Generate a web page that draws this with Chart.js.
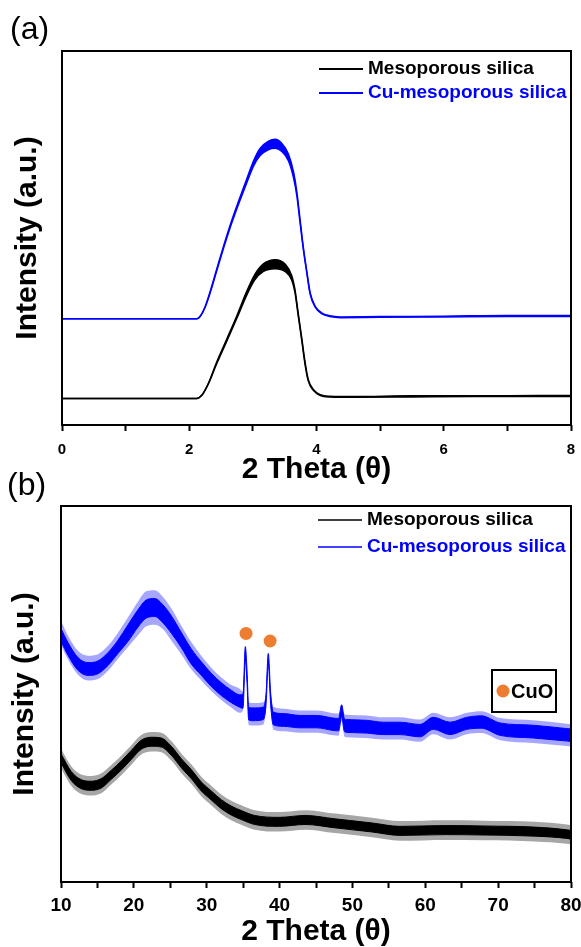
<!DOCTYPE html>
<html>
<head>
<meta charset="utf-8">
<script src="https://cdn.jsdelivr.net/npm/chart.js@4.4.1/dist/chart.umd.min.js"></script>
<style>
html, body { margin: 0; padding: 0; background: #fff; overflow: hidden; }
#wrap { position: relative; width: 581px; height: 947px; }
canvas { position: absolute; left: 0; }
#chartA { top: 0; }
#chartB { top: 468px; }
</style>
</head>
<body>
<div id="wrap">
    <canvas id="chartA" width="581" height="485"></canvas>
    <canvas id="chartB" width="581" height="479"></canvas>
</div>
<script>
var FONT = '"Liberation Sans", Arial, sans-serif';

var seriesNames = ['Mesoporous silica', 'Cu-mesoporous silica'];
var seriesColors = ['#000000', '#0000ff'];
var seriesHalo = ['rgba(0,0,0,0.35)', 'rgba(0,0,255,0.35)'];

// (a) low angle: the noisy trace is kept as an upper and lower edge
var aSilicaX  = [0, 2.12, 2.2, 2.3, 2.43, 2.59, 2.75, 2.9, 3.03, 3.16, 3.35, 3.51, 3.61, 3.66, 3.71, 3.77, 3.82, 3.87, 3.95, 4.06, 4.21, 4.6, 5.5, 6.5, 7.5, 8];
var aSilicaHi = [7.1, 7.1, 8.0, 11.1, 16.8, 23.0, 29.3, 35.6, 40.2, 43.0, 44.2, 43.0, 40.0, 36.4, 30.2, 23.0, 16.8, 12.2, 9.5, 8.1, 7.7, 7.6, 7.8, 7.8, 7.9, 7.9];
var aSilicaLo = [7.1, 7.1, 8.0, 11.0, 16.3, 22.4, 28.6, 34.6, 38.8, 41.0, 41.8, 41.0, 38.8, 35.6, 29.6, 22.4, 16.2, 11.8, 9.3, 7.9, 7.5, 7.4, 7.5, 7.6, 7.6, 7.6];

var aCuX  = [0, 2.12, 2.17, 2.25, 2.33, 2.43, 2.54, 2.64, 2.77, 2.9, 3.01, 3.11, 3.24, 3.35, 3.45, 3.56, 3.64, 3.69, 3.74, 3.79, 3.85, 3.9, 3.98, 4.08, 4.21, 4.37, 5, 6, 7, 8];
var aCuHi = [28.4, 28.4, 29.0, 31.7, 35.8, 41.6, 47.9, 53.3, 59.6, 65.6, 70.6, 73.9, 75.8, 76.4, 75.4, 72.4, 67.6, 62.5, 55.2, 47.9, 40.8, 35.4, 31.7, 30.0, 29.2, 28.9, 29.0, 29.1, 29.3, 29.3];
var aCuLo = [28.4, 28.4, 29.0, 31.5, 35.4, 41.1, 47.3, 52.6, 58.8, 64.6, 69.2, 72.0, 73.6, 74.0, 73.2, 70.6, 66.0, 61.4, 54.4, 47.4, 40.4, 35.0, 31.5, 29.8, 29.0, 28.7, 28.8, 28.9, 29.0, 29.0];

// (b) wide angle: dense core of the noise band plus the outer spikes
var bSilicaX       = [10.0, 11.4, 12.8, 14.16, 15.53, 16.9, 18.28, 19.65, 21.02, 22.4, 23.77, 25.14, 26.51, 27.88, 29.26, 30.63, 32.0, 33.37, 34.75, 36.57, 40.0, 43.5, 47.6, 52.7, 56.5, 62.9, 68.0, 75.0, 79.4, 80];
var bSilicaHi      = [34.1, 29.4, 27.2, 26.8, 27.5, 29.7, 32.2, 35.0, 37.7, 38.5, 38.3, 36.1, 32.8, 29.9, 26.6, 24.2, 21.9, 20.2, 19.0, 17.7, 17.2, 17.7, 16.8, 15.7, 14.8, 15.0, 14.9, 14.6, 13.9, 13.7];
var bSilicaLo      = [31.7, 27.0, 24.8, 24.4, 25.0, 27.3, 29.8, 32.6, 35.3, 36.1, 35.9, 33.7, 30.4, 27.5, 24.2, 21.8, 19.5, 17.8, 16.6, 15.3, 14.8, 15.3, 14.4, 13.3, 12.4, 12.6, 12.5, 12.2, 11.6, 11.4];
var bSilicaOuterHi = [35.5, 30.8, 28.6, 28.2, 28.9, 31.1, 33.6, 36.4, 39.1, 39.9, 39.7, 37.5, 34.2, 31.3, 28.0, 25.6, 23.3, 21.6, 20.4, 19.1, 18.6, 19.1, 18.2, 17.1, 16.2, 16.4, 16.3, 16.0, 15.3, 15.1];
var bSilicaOuterLo = [30.3, 25.6, 23.4, 23.0, 23.6, 25.9, 28.4, 31.2, 33.9, 34.7, 34.5, 32.3, 29.0, 26.1, 22.8, 20.4, 18.1, 16.4, 15.2, 13.9, 13.4, 13.9, 13.0, 11.9, 11.0, 11.2, 11.1, 10.8, 10.2, 10.0];

var bCuX       = [10.0, 10.96, 12.33, 13.7, 15.08, 16.45, 17.82, 19.2, 20.57, 21.7, 22.86, 24.0, 25.14, 26.5, 27.88, 29.25, 30.63, 32.0, 33.38, 34.52, 34.98, 35.3, 35.53, 35.76, 36.35, 37.77, 38.14, 38.45, 38.78, 39.14, 40.51, 42.8, 45.1, 47.37, 48.1, 48.52, 48.9, 49.2, 51.96, 54.24, 56.53, 59.27, 61.1, 63.39, 65.7, 67.7, 70.25, 74.8, 79.4, 80];
var bCuHi      = [67.4, 63.7, 59.7, 58.35, 58.8, 61.0, 64.3, 68.4, 72.4, 75.0, 75.4, 73.7, 70.8, 66.4, 62.0, 58.6, 55.5, 53.0, 51.0, 49.8, 50.0, 62.6, 56.4, 46.5, 46.3, 46.5, 50.0, 60.8, 50.2, 45.2, 44.8, 44.3, 44.3, 43.6, 43.5, 47.1, 43.4, 43.2, 43.0, 42.5, 42.5, 41.9, 43.8, 42.5, 43.8, 44.2, 42.3, 41.7, 40.8, 40.7];
var bCuLo      = [64.0, 60.3, 56.3, 54.95, 55.4, 57.6, 60.8, 64.0, 67.8, 70.2, 70.6, 68.9, 66.2, 62.4, 58.0, 55.0, 52.0, 49.6, 47.7, 46.5, 46.2, 59.0, 53.0, 43.1, 42.9, 43.2, 47.0, 58.0, 47.0, 41.8, 41.4, 41.0, 41.0, 40.3, 40.2, 44.0, 40.0, 39.8, 39.6, 39.2, 39.2, 38.6, 40.6, 39.2, 40.6, 40.9, 39.0, 38.3, 37.5, 37.4];
var bCuOuterHi = [69.5, 65.5, 61.5, 60.2, 60.6, 62.8, 66.3, 70.4, 74.6, 77.3, 77.6, 75.8, 72.8, 68.2, 63.8, 60.2, 57.0, 54.4, 52.4, 51.4, 50.6, 62.6, 56.4, 47.8, 47.6, 47.8, 50.6, 60.8, 50.8, 46.6, 46.1, 45.6, 45.6, 44.9, 44.8, 47.4, 44.7, 44.5, 44.3, 43.8, 43.8, 43.2, 45.0, 43.8, 45.0, 45.4, 43.6, 43.0, 42.1, 42.0];
var bCuOuterLo = [62.9, 59.2, 55.1, 53.6, 54.0, 56.2, 59.4, 62.5, 65.6, 68.0, 68.4, 67.2, 64.2, 60.6, 56.6, 53.6, 50.8, 48.4, 46.4, 45.0, 45.6, 59.0, 53.0, 41.8, 41.6, 41.9, 46.4, 58.0, 46.4, 40.5, 40.1, 39.7, 39.7, 39.0, 38.9, 42.8, 38.7, 38.5, 38.3, 37.9, 37.9, 37.3, 39.3, 37.9, 39.3, 39.6, 37.7, 37.0, 36.2, 36.1];

// CuO reflections marked with orange dots
var cuoX = [35.4, 38.7];
var cuoY = [66.1, 64.1];

var xLabelsA = [0, 2, 4, 6, 8];
var xLabelsB = [10, 20, 30, 40, 50, 60, 70, 80];


function toPoints(xs, ys) {
    return xs.map(function(x, i) {
        return {x: x, y: ys[i]};
    });
}

// two edge lines with the space between them filled
function bandDatasets(xs, hi, lo, name, line, fillColor, lineWidth) {
    var common = {pointRadius: 0, tension: 0, cubicInterpolationMode: 'monotone', borderWidth: lineWidth, borderColor: line};
    return [
        Object.assign({label: name, data: toPoints(xs, hi), fill: false}, common),
        Object.assign({label: name + ' lower', data: toPoints(xs, lo), fill: '-1', backgroundColor: fillColor}, common)
    ];
}

var framePlugin = {
    id: 'frame',
    afterDatasetsDraw: function(chart) {
        var a = chart.chartArea;
        var ctx = chart.ctx;
        ctx.save();
        ctx.strokeStyle = '#000';
        ctx.lineWidth = 2;
        ctx.strokeRect(a.left, a.top, a.right - a.left, a.bottom - a.top);
        ctx.restore();
    }
};

var insideLegend = {
    id: 'insideLegend',
    afterDraw: function(chart, args, opts) {
        var a = chart.chartArea;
        var ctx = chart.ctx;
        ctx.save();
        ctx.font = 'bold 19px ' + FONT;
        ctx.textBaseline = 'middle';
        for (var i = 0; i < seriesNames.length; i++) {
            var x = a.right - opts.right;
            var y = a.top + opts.top + i * opts.gap;
            ctx.strokeStyle = seriesColors[i];
            ctx.lineWidth = opts.lineWidth;
            ctx.beginPath();
            ctx.moveTo(x, y);
            ctx.lineTo(x + 44, y);
            ctx.stroke();
            ctx.fillStyle = seriesColors[i];
            ctx.fillText(seriesNames[i], x + 49, y);
        }
        ctx.restore();
    }
};

// little boxed key for the CuO dots
var cuoKey = {
    id: 'cuoKey',
    afterDraw: function(chart) {
        var a = chart.chartArea;
        var ctx = chart.ctx;
        var left = a.right - 79, top = a.top + 164, w = 64, h = 42;
        ctx.save();
        ctx.strokeStyle = '#000';
        ctx.lineWidth = 2;
        ctx.strokeRect(left, top, w, h);
        ctx.fillStyle = '#ed7d31';
        ctx.beginPath();
        ctx.arc(left + 11, top + h / 2, 6.5, 0, Math.PI * 2);
        ctx.fill();
        ctx.fillStyle = '#000';
        ctx.font = 'bold 20px ' + FONT;
        ctx.textBaseline = 'middle';
        ctx.fillText('CuO', left + 19, top + h / 2 + 1);
        ctx.restore();
    }
};

function makeScales(o) {
    return {
        x: {
            type: 'linear', min: o.min, max: o.max,
            border: {display: false},
            grid: {drawOnChartArea: false, drawTicks: true, tickLength: 6, tickWidth: 2, tickColor: '#000'},
            ticks: {
                stepSize: o.step, autoSkip: false, maxRotation: 0, color: '#000', padding: o.tickPad,
                font: {family: FONT, size: o.tickSize, weight: 'bold'},
                callback: function(v) {
                    return o.labels.indexOf(v) >= 0 ? String(v) : '';
                }
            },
            title: {display: true, text: '2 Theta (θ)', color: '#000', padding: 0,
                    font: {family: FONT, size: 30, weight: 'bold', lineHeight: 1}},
            afterFit: function(s) {
                // edge labels may hang over the frame, like the original
                s.height = o.xHeight;
                s.paddingLeft = 0;
                s.paddingRight = 0;
            }
        },
        y: {
            min: 0, max: 100,
            border: {display: false},
            grid: {display: false},
            ticks: {display: false},
            title: {display: true, text: 'Intensity (a.u.)', color: '#000', padding: 0,
                    font: {family: FONT, size: 30, weight: 'bold', lineHeight: 1.2}},
            afterFit: function(s) { s.width = o.yWidth; }
        }
    };
}

function panelTitle(text, padBottom) {
    return {display: true, text: text, align: 'start', color: '#000',
            font: {family: FONT, size: 32, weight: 'normal', lineHeight: 1},
            padding: {top: 0, bottom: padBottom}};
}

drawPanelA();
function drawPanelA() {
    var datasets = bandDatasets(aSilicaX, aSilicaHi, aSilicaLo, seriesNames[0], seriesColors[0], seriesColors[0], 1.5)
        .concat(bandDatasets(aCuX, aCuHi, aCuLo, seriesNames[1], seriesColors[1], seriesColors[1], 1.5));
    new Chart(document.getElementById('chartA'), {
        type: 'line',
        data: {datasets: datasets},
        options: {
            responsive: false, animation: false, devicePixelRatio: 1,
            layout: {padding: {top: 14, left: 10, right: 10, bottom: 0}},
            scales: makeScales({min: 0, max: 8, step: 1, labels: xLabelsA, tickSize: 15, tickPad: 10, xHeight: 60, yWidth: 52}),
            plugins: {
                legend: {display: false},
                tooltip: {enabled: false},
                title: panelTitle('(a)', 5),
                insideLegend: {right: 252, top: 18, gap: 24, lineWidth: 2}
            }
        },
        plugins: [framePlugin, insideLegend]
    });
}

drawPanelB();
function drawPanelB() {
    var datasets = [{
        label: 'CuO', data: toPoints(cuoX, cuoY), showLine: false,
        pointRadius: 6.5, pointBackgroundColor: '#ed7d31', pointBorderWidth: 0
    }];
    datasets = datasets
        .concat(bandDatasets(bSilicaX, bSilicaHi, bSilicaLo, seriesNames[0], seriesColors[0], seriesColors[0], 1))
        .concat(bandDatasets(bSilicaX, bSilicaOuterHi, bSilicaOuterLo, seriesNames[0] + ' spikes', 'rgba(0,0,0,0)', seriesHalo[0], 0))
        .concat(bandDatasets(bCuX, bCuHi, bCuLo, seriesNames[1], seriesColors[1], seriesColors[1], 1))
        .concat(bandDatasets(bCuX, bCuOuterHi, bCuOuterLo, seriesNames[1] + ' spikes', 'rgba(0,0,0,0)', seriesHalo[1], 0));
    new Chart(document.getElementById('chartB'), {
        type: 'line',
        data: {datasets: datasets},
        options: {
            responsive: false, animation: false, devicePixelRatio: 1,
            layout: {padding: {top: 2, left: 7, right: 10, bottom: 0}},
            scales: makeScales({min: 10, max: 80, step: 5, labels: xLabelsB, tickSize: 19, tickPad: 6, xHeight: 65, yWidth: 54}),
            plugins: {
                legend: {display: false},
                tooltip: {enabled: false},
                title: panelTitle('(b)', 4),
                insideLegend: {right: 253, top: 14, gap: 27, lineWidth: 1.5}
            }
        },
        plugins: [framePlugin, insideLegend, cuoKey]
    });
}
</script>
</body>
</html>
